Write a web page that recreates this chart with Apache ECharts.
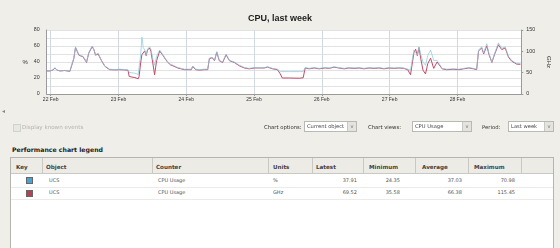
<!DOCTYPE html>
<html><head><meta charset="utf-8">
<script src="https://cdn.jsdelivr.net/npm/echarts@6/dist/echarts.min.js"></script>
<style>
body{margin:0;width:560px;height:248px;background:#efeee9;overflow:hidden;position:relative;font-family:"DejaVu Sans",Verdana,sans-serif;}
#chart{position:absolute;left:0;top:0;width:560px;height:112px;}
.t{position:absolute;white-space:nowrap;font-size:5.6px;color:#333;line-height:7px;height:7px;}
.b{font-weight:bold;}
.sel{position:absolute;height:11px;background:#fff;border:1px solid #b9b9b4;box-sizing:border-box;font-size:5.2px;line-height:9px;color:#444;padding-left:2px;}
.sel .ar{position:absolute;right:0;top:0;width:8px;height:9px;background:#e4e3de;border-left:1px solid #c8c8c2;color:#777;font-size:5px;text-align:center;line-height:9px;}
#tbl{position:absolute;left:10px;top:157px;width:544px;height:100px;background:#fff;border:1px solid #b5b5b0;box-sizing:border-box;}
#hdr{position:absolute;left:0;top:0;width:100%;height:15px;background:#ecebe6;border-bottom:1px solid #c9c8c2;}
.vs{position:absolute;top:0;width:1px;height:15px;background:#c9c8c2;}
.hl{position:absolute;left:0;width:100%;height:1px;background:#ecebe7;}
</style>
</head><body>
<div id="chart"></div>

<div class="t" style="left:2px;top:107px;color:#888;font-size:6px;">&#9666;</div>
<div style="position:absolute;left:13px;top:124px;width:6px;height:6px;border:1px solid #d2d2cc;background:#e8e8e3;"></div>
<div class="t" style="left:22px;top:124px;color:#b4b4ae;">Display known events</div>

<div class="t" style="left:264px;top:124px;font-size:5.3px;color:#333;">Chart options:</div>
<div class="sel" style="left:304px;top:121px;width:53px;">Current object<div class="ar">v</div></div>
<div class="t" style="left:368px;top:124px;font-size:5.3px;color:#333;">Chart views:</div>
<div class="sel" style="left:412px;top:121px;width:60px;">CPU Usage<div class="ar">v</div></div>
<div class="t" style="left:482px;top:124px;font-size:5.3px;color:#333;">Period:</div>
<div class="sel" style="left:508px;top:121px;width:46px;">Last week<div class="ar">v</div></div>

<div class="t b" style="left:12px;top:146px;font-size:6.2px;color:#222;">Performance chart legend</div>

<div id="tbl">
  <div id="hdr">
    <div class="vs" style="left:31px"></div>
    <div class="vs" style="left:141px"></div>
    <div class="vs" style="left:257px"></div>
    <div class="vs" style="left:301px"></div>
    <div class="vs" style="left:352px"></div>
    <div class="vs" style="left:404px"></div>
    <div class="vs" style="left:457px"></div>
    <div class="vs" style="left:510px"></div>
  </div>
  <div class="hl" style="top:29px"></div>
  <div class="hl" style="top:41px"></div>
</div>

<script>
// ---- data (hours after 22 Feb 00:00) ----
const hours = [-1.4,-0.3,0.8,1.5,2.2,3.3,5.0,6.8,7.5,8.2,8.8,9.3,10.0,11.5,12.7,13.5,14.7,15.3,15.9,16.8,18.0,19.2,20.9,22.7,24.5,26.2,27.4,27.8,28.3,29.8,31.0,31.3,31.9,32.3,32.8,33.3,33.8,34.3,35.0,35.5,36.1,36.8,37.5,38.6,39.7,40.7,41.5,42.5,43.3,45.0,47.4,49.8,50.3,51.3,52.7,54.5,55.6,56.2,57.2,58.0,58.8,59.7,60.9,62.1,63.3,65.0,66.8,68.6,70.3,72.1,73.9,75.6,76.8,78.6,80.3,81.3,82.0,84.5,88.0,89.4,90.1,91.5,93.3,95.0,97.2,98.6,100.3,102.0,103.9,105.6,107.4,109.2,110.9,112.7,114.5,116.2,118.0,119.8,121.5,123.3,125.0,126.4,127.4,128.6,129.2,129.8,130.4,131.0,131.8,132.7,133.5,134.5,135.6,136.8,138.6,140.2,142.7,144.5,146.2,148.0,149.7,150.8,151.5,152.6,153.3,154.4,155.2,156.2,157.1,158.5,159.7,160.9,162.1,163.2,163.8,165.0,166.3];
const cpuPct = [29,29,30,33,30,29,29.5,28.5,29,45,59,57,49,47,40,52,60,56,49,51,42,35,31,30.5,31,30.5,30,27,26,26,24.35,26,50,70.98,58,55,49,56,59,56,45,36,47,55,49,44,40,37,36,33,31,31,35,31,30.5,31,31,45,46,42,53,42,40,50,42,40,36,33,32,33,33,33,34,32,31,28,27,28,28,28,33,32,33,32,33,32.5,34,33,32,33,32.5,33,32,33,32.5,33,32,33,32.5,33,32.5,31,30,55,57,49,59,50,40,36,48,55,42,42,32,31,31.5,31,32,33,32,31,55,59,51,63,50,40,50,64,57,59,47,42,44,38,37.91];
const cpuGhz = [54,54,56,61,56,54,55,53,54,83,109,106,91,87,74,96,111,104,91,94,78,65,57,56.5,57,56.5,55.5,41,39,38.5,35.58,41,75,92,94,101,90,103,108,100,75,45,78,101,91,81,74,68,66,61,57,57,65,57,56,57,57,83,85,78,98,78,74,92,78,74,66,61,59,61,61,61,63,59,57,47,37.5,37.5,37,38,61,59,61,59,61,60,63,61,59,61,60,61,59,61,60,61,59,61,60,61,60,57,45,97,105,90,109,84,56,47,71,84,60,75,59,57,58,57,59,61,59,57,101,108,94,113,92,74,92,115.45,104,108,86,77,81,70,69.52];
const seriesNames = ['CPU Usage (%)','CPU Usage (GHz)'];
const pctTicks = [0,20,40,60,80];
const ghzTicks = [0,50,100,150];
// legend table
const tblObject = ['UCS','UCS'];
const tblCounter = ['CPU Usage','CPU Usage'];
const tblUnits = ['%','GHz'];
const tblLatest = ['37.91','69.52'];
const tblMin = ['24.35','35.58'];
const tblAvg = ['37.03','66.38'];
const tblMax = ['70.98','115.45'];
const tblHead = ['Key','Object','Counter','Units','Latest','Minimum','Average','Maximum'];

const blueCol = '#8ccbe2', redCol = '#c24a68';
const H = 3600000;
const base = new Date(2011,1,22,0,0,0).getTime();
const dPct = hours.map((h,i)=>[base+h*H, cpuPct[i]]);
const dGhz = hours.map((h,i)=>[base+h*H, cpuGhz[i]]);

const chart = echarts.init(document.getElementById('chart'), null, {renderer:'canvas'});
const lblFont = 'Liberation Sans';
chart.setOption({
  animation:false,
  title:{text:'CPU, last week',left:'center',top:9,textStyle:{fontSize:9,fontWeight:'bold',color:'#1e1e1e',fontFamily:'Liberation Sans'}},
  grid:{left:46.7,right:38,top:30,height:64,show:true,backgroundColor:'#ffffff',borderWidth:0},
  xAxis:{type:'time',min:base-1.4*H,max:base+166.6*H,minInterval:24*H,maxInterval:24*H,
    axisLine:{lineStyle:{color:'#9a9a9a'}},axisTick:{show:true,length:2,lineStyle:{color:'#9a9a9a'}},
    axisLabel:{fontSize:5,color:'#333',margin:3,fontFamily:lblFont,showMinLabel:false,showMaxLabel:false,
      formatter:function(v){const d=new Date(v);return d.getDate()+' Feb';}},
    splitLine:{show:true,lineStyle:{color:'#d3d9e0',width:1}}},
  yAxis:[
    {type:'value',min:0,max:80,interval:10,name:'%',nameLocation:'middle',nameGap:14,nameRotate:0,
     nameTextStyle:{fontSize:6,color:'#333',fontFamily:lblFont},
     axisLine:{show:true,lineStyle:{color:'#9a9a9a'}},axisTick:{show:false},
     axisLabel:{fontSize:5.3,color:'#333',margin:7,fontFamily:lblFont,formatter:function(v){return pctTicks.indexOf(v)>=0?String(v):'';}},
     splitLine:{show:true,lineStyle:{color:'#e2e2e2',width:1}}},
    {type:'value',min:0,max:150,interval:50,position:'right',name:'GHz',nameLocation:'middle',nameGap:19,nameRotate:-90,
     nameTextStyle:{fontSize:6,color:'#333',fontFamily:lblFont},
     axisLine:{show:true,lineStyle:{color:'#9a9a9a'}},axisTick:{show:true,length:2,lineStyle:{color:'#9a9a9a'}},
     axisLabel:{fontSize:5.3,color:'#333',margin:5,fontFamily:lblFont,formatter:function(v){return ghzTicks.indexOf(v)>=0?String(v):'';}},
     splitLine:{show:false}}
  ],
  series:[
    {name:seriesNames[1],type:'line',yAxisIndex:1,data:dGhz,showSymbol:false,symbol:'none',lineStyle:{color:redCol,width:1},z:2},
    {name:seriesNames[0],type:'line',yAxisIndex:0,data:dPct,showSymbol:false,symbol:'none',lineStyle:{color:blueCol,width:1,opacity:0.75},z:3}
  ]
});

// ---- table ----
const tbl = document.getElementById('tbl');
function txt(parent,s,x,y,opts){
  const d=document.createElement('div');d.className='t'+(opts&&opts.bold?' b':'');d.textContent=s;
  d.style.left=x+'px';d.style.top=y+'px';
  if(opts&&opts.right){d.style.left='auto';d.style.right=(544-x)+'px';}
  if(opts&&opts.color)d.style.color=opts.color;
  if(opts&&opts.size)d.style.fontSize=opts.size+'px';
  parent.appendChild(d);return d;
}
const hx=[5,35,145,262,305,358,411,463];
tblHead.forEach((h,i)=>txt(tbl,h,hx[i],5.5,{bold:true,color:'#444',size:5.6}));
const keyCols=['#4aa3d3','#b44256'];
for(let r=0;r<2;r++){
  const y=18.5+r*12.5;
  const k=document.createElement('div');
  k.style.cssText='position:absolute;left:15px;top:'+(y+0.5)+'px;width:5px;height:5px;border:1px solid #666;background:'+keyCols[r]+';';
  tbl.appendChild(k);
  txt(tbl,tblObject[r],38,y,{size:5,color:'#555'});
  txt(tbl,tblCounter[r],147,y,{size:5,color:'#555'});
  txt(tbl,tblUnits[r],262,y,{size:5,color:'#555'});
  txt(tbl,tblLatest[r],348,y,{size:5,color:'#555',right:true});
  txt(tbl,tblMin[r],391,y,{size:5,color:'#555',right:true});
  txt(tbl,tblAvg[r],453,y,{size:5,color:'#555',right:true});
  txt(tbl,tblMax[r],506,y,{size:5,color:'#555',right:true});
}
</script>
</body></html>
